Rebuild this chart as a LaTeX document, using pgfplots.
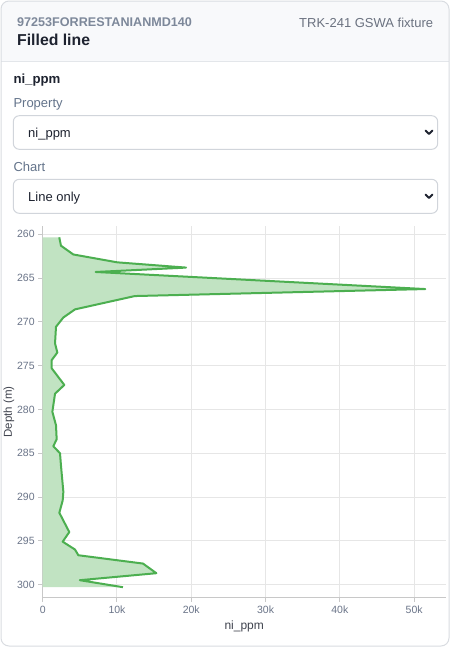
\documentclass[border=0pt]{standalone}
\usepackage{fontspec}
\setmainfont{Liberation Sans}
\usepackage{pgfplots}
\usepackage{pgfplotstable}
\pgfplotsset{compat=1.18}

\definecolor{cardborder}{HTML}{D9DCE1}
\definecolor{headerbg}{HTML}{F8F9FB}
\definecolor{sepline}{HTML}{E3E6EA}
\definecolor{idgray}{HTML}{7D889A}
\definecolor{darktext}{HTML}{1E2330}
\definecolor{subgray}{HTML}{6B7280}
\definecolor{labgray}{HTML}{64748B}
\definecolor{boxborder}{HTML}{D1D5DB}
\definecolor{tickgray}{HTML}{6B7589}
\definecolor{gridgray}{HTML}{E6E6E6}
\definecolor{axisgray}{HTML}{C8C8C8}
\definecolor{lineg}{HTML}{4CAF50}
\definecolor{fillg}{HTML}{C1E3C2}

% depth (m), ni (ppm)
\pgfplotstableread{
depth ni
260.34 2230
261.3 2460
262.3 4120
263.2 10040
263.8 19300
264.3 7130
266.25 51500
267.05 12400
268.57 4350
269.5 2780
270.56 1790
272.46 1660
273.5 1970
274.37 1210
275.3 1210
277.2 2910
278.2 1660
280.27 1300
281.8 1790
283.4 1880
284.2 1430
285.0 2330
286.4 2460
289.4 2780
290.4 2690
291.8 2240
294.0 3580
295.1 2690
296.0 4350
296.65 4800
297.6 13500
298.7 15300
299.5 5000
300.3 10800
}\nidata

% same profile closed back to ni = 0 for the shaded area
\pgfplotstableread{
depth ni
260.34 0
260.34 2230
261.3 2460
262.3 4120
263.2 10040
263.8 19300
264.3 7130
266.25 51500
267.05 12400
268.57 4350
269.5 2780
270.56 1790
272.46 1660
273.5 1970
274.37 1210
275.3 1210
277.2 2910
278.2 1660
280.27 1300
281.8 1790
283.4 1880
284.2 1430
285.0 2330
286.4 2460
289.4 2780
290.4 2690
291.8 2240
294.0 3580
295.1 2690
296.0 4350
296.65 4800
297.6 13500
298.7 15300
299.5 5000
300.3 10800
300.3 0
}\nifill

\begin{document}
\begin{tikzpicture}
\useasboundingbox (0pt,0pt) rectangle (451pt,-648pt);

% card and header
\begin{scope}[x=1pt,y=-1pt]
  \fill[white, rounded corners=8pt] (1,1) rectangle (449,646);
  \fill[headerbg, rounded corners=8pt] (1,1) rectangle (449,61);
  \fill[headerbg] (1,40) rectangle (449,61);
  \draw[sepline, line width=1pt] (1,61) -- (449,61);
  \draw[cardborder, line width=1pt, rounded corners=8pt] (1,1) rectangle (449,646);

  \node[anchor=base west, inner sep=0, text=idgray, font=\fontsize{12.6}{15}\selectfont\bfseries] at (17,26.7) {97253FORRESTANIANMD140};
  \node[anchor=base west, inner sep=0, text=darktext, font=\fontsize{15.8}{19}\selectfont\bfseries] at (17,45.7) {Filled line};
  \node[anchor=base east, inner sep=0, text=subgray, font=\fontsize{13}{15}\selectfont] at (433.3,27.3) {TRK-241 GSWA fixture};

  \node[anchor=base west, inner sep=0, text=darktext, font=\fontsize{13.2}{15}\selectfont\bfseries] at (13.3,83.3) {ni\_ppm};
  \node[anchor=base west, inner sep=0, text=labgray, font=\fontsize{13}{15}\selectfont] at (13.3,107.5) {Property};
  \draw[boxborder, line width=1pt, rounded corners=6pt] (13.3,115.7) rectangle (437.7,149.3);
  \node[anchor=base west, inner sep=0, text=darktext, font=\fontsize{13}{15}\selectfont] at (28,137.3) {ni\_ppm};
  \draw[darktext, line width=1.8pt, line cap=round, line join=round] (425.6,130.6) -- (429,134) -- (432.4,130.6);

  \node[anchor=base west, inner sep=0, text=labgray, font=\fontsize{13}{15}\selectfont] at (13.3,171.7) {Chart};
  \draw[boxborder, line width=1pt, rounded corners=6pt] (13.3,179.3) rectangle (437.7,213.3);
  \node[anchor=base west, inner sep=0, text=darktext, font=\fontsize{13}{15}\selectfont] at (28,201.3) {Line only};
  \draw[darktext, line width=1.8pt, line cap=round, line join=round] (425.6,194.6) -- (429,198) -- (432.4,194.6);
\end{scope}

\begin{axis}[
  at={(42.7pt,-597.7pt)}, anchor=south west,
  scale only axis, width=403pt, height=371.7pt,
  xmin=0, xmax=54250,
  ymin=259.05, ymax=301.5, y dir=reverse,
  axis x line*=bottom, axis y line*=left,
  axis line style={draw=axisgray, line width=1pt, -},
  xtick={0,10000,20000,30000,40000,50000},
  xticklabels={0,10k,20k,30k,40k,50k},
  scaled x ticks=false,
  ytick={260,265,270,275,280,285,290,295,300},
  tick align=outside, major tick length=4.5pt,
  tick style={draw=axisgray, line width=1pt},
  grid=major, major grid style={draw=gridgray, line width=1pt},
  /pgf/number format/assume math mode=true,
  ticklabel style={font=\fontsize{10.5}{12}\selectfont, text=tickgray},
  xlabel={ni\_ppm},
  ylabel={Depth (m)},
  xlabel style={font=\fontsize{12}{14}\selectfont, text=darktext!85},
  ylabel style={at={(axis description cs:-0.0836,0.5)}, anchor=center,
    font=\fontsize{11.5}{14}\selectfont, text=darktext!85},
]
\addplot[fill=fillg, draw=none] table[x=ni, y=depth] {\nifill};
\addplot[draw=lineg, line width=2pt, line join=round] table[x=ni, y=depth] {\nidata};
\end{axis}
\end{tikzpicture}
\end{document}
